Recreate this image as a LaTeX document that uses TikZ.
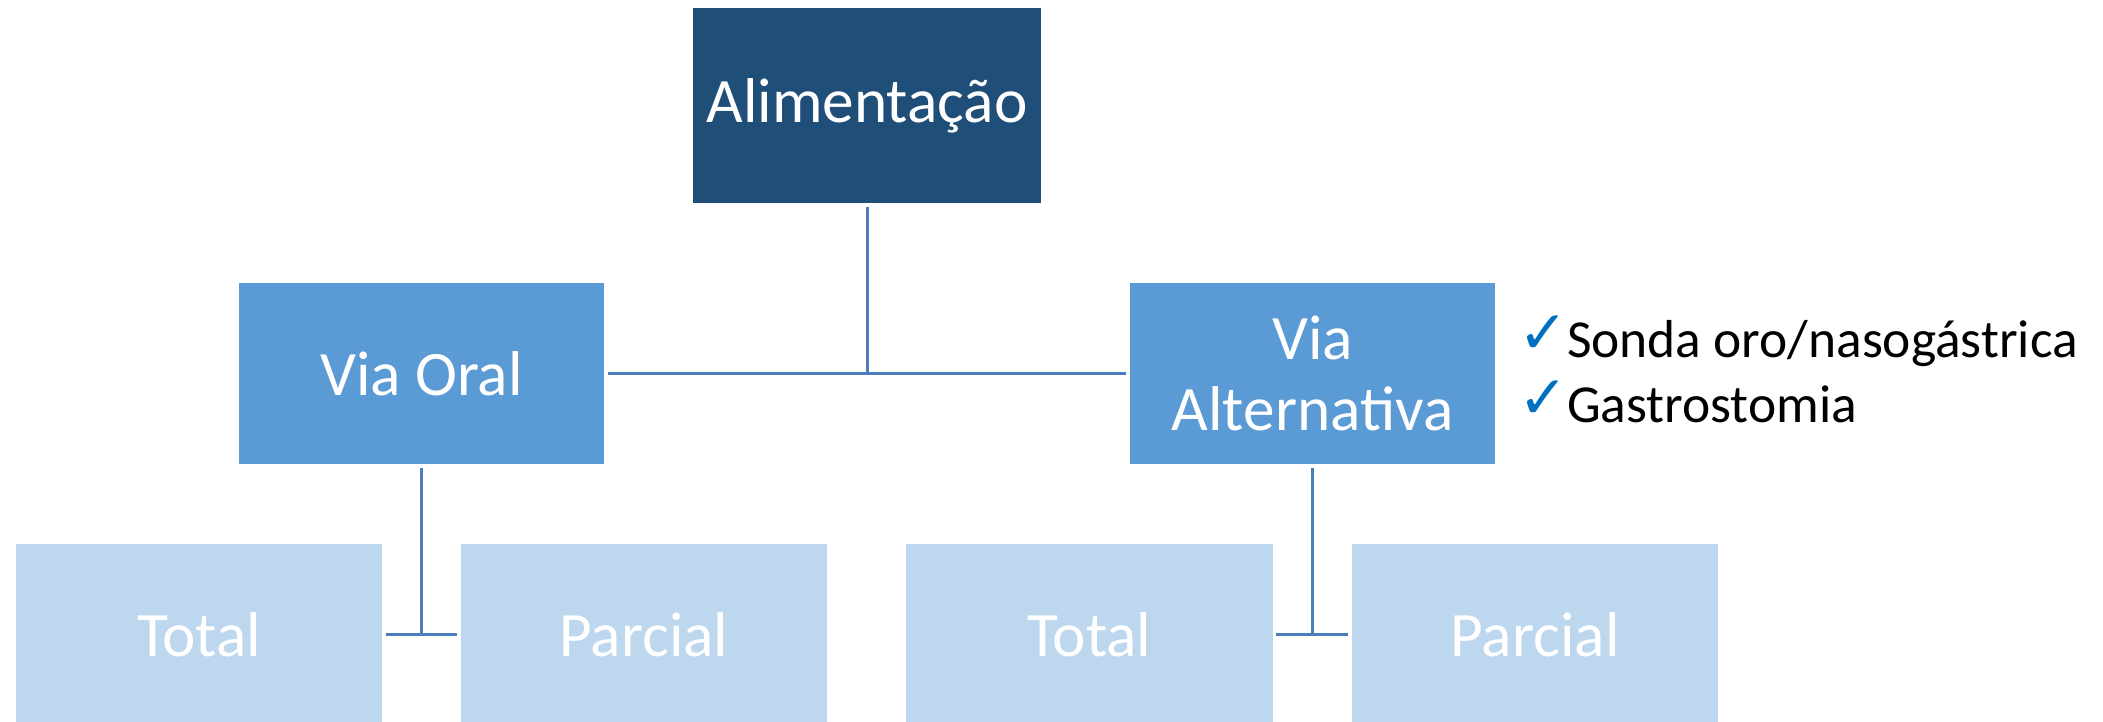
\documentclass[tikz,border=0pt]{standalone}
\usepackage{fontspec}
\setmainfont{Carlito}
\newfontfamily\tickfont{DejaVu Sans}
\usepackage{xcolor}
\usetikzlibrary{calc}
\definecolor{darkblue}{HTML}{1F4E79}
\definecolor{midblue}{HTML}{5B9BD5}
\definecolor{paleblue}{HTML}{BDD7EE}
\definecolor{linkblue}{HTML}{4A7EBB}
\definecolor{tickblue}{HTML}{0070C0}
\newcommand{\tick}{\raisebox{1pt}{\tickfont\fontsize{17}{17}\selectfont\color{tickblue}✓}\hspace{-0.5pt}}

\begin{document}
\begin{tikzpicture}[x=0.01cm, y=-0.01cm,
  box/.style={rectangle, inner sep=0pt, outer sep=1pt, text=white,
    font=\fontsize{18}{20}\selectfont, align=center},
  topbox/.style={box, fill=darkblue, minimum width=3.48cm, minimum height=1.95cm},
  viabox/.style={box, fill=midblue, minimum width=3.65cm, minimum height=1.81cm},
  subbox/.style={box, fill=paleblue, minimum width=3.66cm, minimum height=1.81cm},
  link/.style={linkblue, line width=0.85pt},
  item/.style={anchor=base west, inner sep=0pt, font=\fontsize{15.2}{18}\selectfont}]
  \useasboundingbox (0,0) rectangle (2103,721);
  \clip (0,0) rectangle (2103,721);
  \node[topbox] (ali) at (867,105.5) {Alimentação};
  \node[viabox] (oral) at (421.5,373.5) {Via Oral};
  \node[viabox] (alt) at (1312.5,373.5) {Via\\Alternativa};
  \node[subbox] (totA) at (199,634.5) {Total};
  \node[subbox] (parA) at (644,634.5) {Parcial};
  \node[subbox] (totB) at (1089.5,634.5) {Total};
  \node[subbox] (parB) at (1535,634.5) {Parcial};
  \node[item] (chk1) at (1518,357) {\tick Sonda oro/nasogástrica};
  \node[item] (chk2) at (1518,422) {\tick Gastrostomia};
  \draw[link] (ali.south) -- (ali.south |- oral.east);
  \draw[link] (oral.east) -- (alt.west);
  \draw[link] (oral.south) -- (oral.south |- totA.east);
  \draw[link] (totA.east) -- (parA.west);
  \draw[link] (alt.south) -- (alt.south |- totB.east);
  \draw[link] (totB.east) -- (parB.west);
\end{tikzpicture}
\end{document}
